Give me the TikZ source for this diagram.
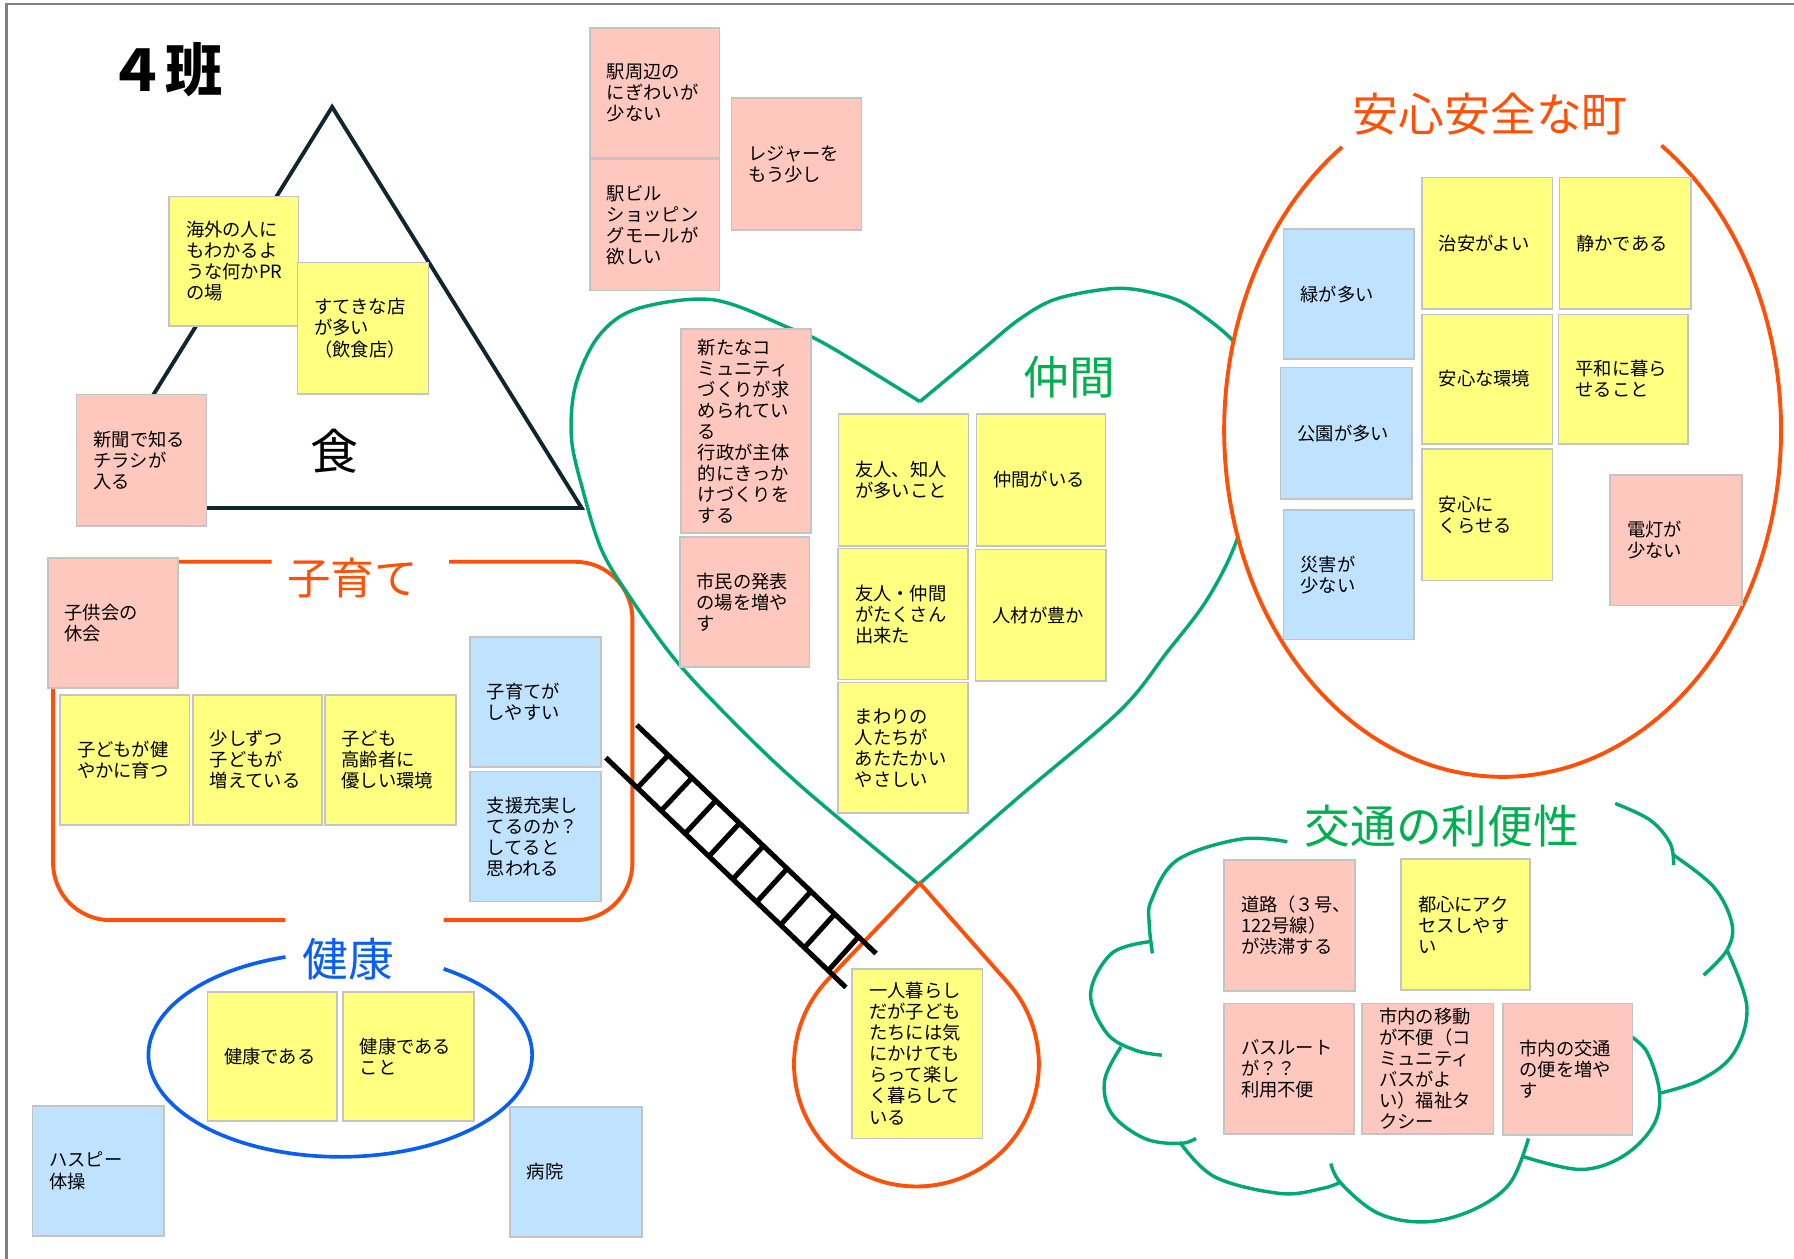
\documentclass[tikz,border=0pt]{standalone}
\usepackage{fontspec}
\setmainfont{Noto Sans CJK JP}
\usetikzlibrary{calc}
\definecolor{pinkn}{HTML}{FFC8BF}
\definecolor{yellown}{HTML}{FFFF80}
\definecolor{bluen}{HTML}{BFE3FF}
\definecolor{noteedge}{HTML}{C4C4C4}
\definecolor{orangel}{HTML}{FF5008}
\definecolor{greenl}{HTML}{00A874}
\definecolor{greent}{HTML}{00B050}
\definecolor{bluel}{HTML}{0A5EF2}
\definecolor{tric}{HTML}{0F2530}
\definecolor{framec}{HTML}{808080}
\tikzset{
  stickybox/.style={draw=noteedge, line width=0.7pt, inner sep=0pt, outer sep=0pt, rectangle},
  stickytext/.style={anchor=west, inner sep=0pt, align=left, font=\fontsize{8}{9.2}\selectfont},
  bigtitle/.style={inner sep=0pt, font=\fontsize{20}{20}\selectfont},
  orangeline/.style={draw=orangel, line width=1.7pt},
  greenline/.style={draw=greenl, line width=1.5pt},
  blueline/.style={draw=bluel, line width=1.6pt},
  triline/.style={draw=tric, line width=1.7pt, line join=miter},
  ladderline/.style={draw=black, line width=2.2pt},
  frameline/.style={draw=framec, line width=1.1pt},
}
\newcommand\stickynote[7]{%
  \node[stickybox, fill=#6, minimum width={(#4-#2)*0.5pt}, minimum height={(#5-#3)*0.5pt}] (#1) at ({(#2+#4)/2},{(#3+#5)/2}) {};
  \node[stickytext] (#1t) at ([xshift=7.2pt]#1.west) {#7};
}
\begin{document}
\begin{tikzpicture}[x=0.5pt,y=-0.5pt]
\useasboundingbox (0,0) rectangle (1568,1100);
% frame
\draw[frameline] (5.8,1100) -- (5.8,3.5) -- (1568,3.5);

% triangle
\coordinate (ta) at (290.3,93.5);
\coordinate (tb) at (508.4,444);
\coordinate (tc) at (72.5,444);
\draw[triline] (ta) -- (tb) -- (tc) -- cycle;

% kosodate rounded rectangle (with gaps)
\draw[orangeline, rounded corners=25pt] (392.5,491) -- (552.7,491) -- (552.7,804.2) -- (387.8,804.2);
\draw[orangeline, rounded corners=25pt] (249.3,804.2) -- (46.4,804.2) -- (46.4,491) -- (237.4,491);

% kenkou ellipse
\draw[blueline] plot[domain=-57.4:253.4, samples=120] ({297.4+167.7*cos(\x)},{921.9+89.2*sin(\x)});

% heart
\draw[greenline] plot[smooth, tension=0.55] coordinates {(804,351) (723.7,302) (690,286.7) (623.3,262) (556.4,270) (523,294) (503,337) (499.5,383) (509.6,429) (526,481) (552,524) (593,580) (652,642) (708,694) (803,773)};
\draw[greenline] plot[smooth, tension=0.55] coordinates {(803,773) (890,697) (979,621) (1020,570) (1055,524) (1081,472) (1100,400) (1100,330) (1077,297) (1040,268) (1014,257.5) (976,252) (924,261) (891,279) (857.5,306.6) (804,351)};

% anshin ellipse
\fill[white] plot[domain=0:360, samples=160] ({1313.3+243.4*cos(\x)},{376+303*sin(\x)}) -- cycle;
\draw[orangeline] plot[domain=-55.2:234.8, samples=160] ({1313.3+243.4*cos(\x)},{376+303*sin(\x)});

% teardrop
\coordinate (dropapex) at (804,772);
\draw[orangeline, line join=miter] (dropapex) -- plot[domain=-43:223, samples=100] ({801+107*cos(\x)},{930+107*sin(\x)}) -- cycle;

% cloud
\draw[greenline] plot[smooth, tension=0.6] coordinates {(1125.1,735.7) (1084.2,733.4) (1028.9,751.7) (1006.4,786.7) (1004.4,807.1) (1007.2,833.3)};
\draw[greenline] plot[smooth, tension=0.6] coordinates {(1004.4,823.1) (971.6,833.3) (953.2,868.3) (967.5,903.2) (992,917.8) (1015.4,922.2)};
\draw[greenline] plot[smooth, tension=0.6] coordinates {(979.8,914.9) (965.5,944) (971.6,973.2) (1000.3,995) (1031,999.4) (1045.3,995)};
\draw[greenline] plot[smooth, tension=0.6] coordinates {(1031,998) (1061.7,1028.6) (1119,1043.1) (1155.8,1038.7) (1172.2,1032.9)};
\draw[greenline] plot[smooth, tension=0.6] coordinates {(1163.2,1016.9) (1172.2,1034.4) (1204.9,1060.6) (1245.9,1067.9) (1286.8,1057.7) (1319.5,1034.4) (1335.9,995)};
\draw[greenline] plot[smooth, tension=0.6] coordinates {(1331.8,1011) (1380.9,1022.1) (1417.8,1011) (1444.4,984.8) (1450.5,955.7) (1440.2,920.7) (1426,906.2)};
\draw[greenline] plot[smooth, tension=0.6] coordinates {(1509.4,830.4) (1526.8,880) (1515.2,920.7) (1486,944) (1449.6,955.7)};
\draw[greenline] plot[smooth, tension=0.6] coordinates {(1462.7,747.4) (1497.7,775.1) (1513.7,807.1) (1509.4,830.4) (1489,852.3)};
\draw[greenline] plot[smooth, tension=0.6] coordinates {(1411.7,702.2) (1442.3,716.8) (1459.8,737.2) (1462.7,756.1)};

% sticky notes: top
\stickynote{n1}{515.6}{24.5}{629}{138}{pinkn}{駅周辺の\\にぎわいが\\少ない}
\stickynote{n2}{515.6}{139.5}{629}{253.9}{pinkn}{駅ビル\\ショッピン\\グモールが\\欲しい}
\stickynote{n3}{639.4}{85.8}{753.1}{201.1}{pinkn}{レジャーを\\もう少し}
% triangle
\stickynote{n4}{147.8}{171.7}{260.9}{285.1}{yellown}{海外の人に\\もわかるよ\\うな何かPR\\の場}
\stickynote{n5}{259.9}{229.3}{374.6}{344.3}{yellown}{すてきな店\\が多い\\（飲食店）}
\stickynote{n6}{66.9}{344.9}{180.6}{459.9}{pinkn}{新聞で知る\\チラシが\\入る}
% heart
\stickynote{n7}{595.2}{287.6}{708.6}{466}{pinkn}{新たなコ\\ミュニティ\\づくりが求\\められてい\\る\\行政が主体\\的にきっか\\けづくりを\\する}
\stickynote{n8}{594.1}{469.4}{707.4}{583}{pinkn}{市民の発表\\の場を増や\\す}
\stickynote{n9}{732.7}{362}{846.5}{477}{yellown}{友人、知人\\が多いこと}
\stickynote{n10}{853.4}{362}{966.3}{477}{yellown}{仲間がいる}
\stickynote{n11}{732.5}{479.5}{846.3}{594}{yellown}{友人・仲間\\がたくさん\\出来た}
\stickynote{n12}{852.6}{480.3}{966.5}{595}{yellown}{人材が豊か}
\stickynote{n13}{732.4}{596.4}{846.3}{710.8}{yellown}{まわりの\\人たちが\\あたたかい\\やさしい}
\stickynote{n14}{744.9}{846.8}{858.8}{994.9}{yellown}{一人暮らし\\だが子ども\\たちには気\\にかけても\\らって楽し\\く暮らして\\いる}
% kosodate
\stickynote{n15}{41.7}{487.6}{155.8}{601.3}{pinkn}{子供会の\\休会}
\stickynote{n16}{52.5}{607.4}{165.6}{721}{yellown}{子どもが健\\やかに育つ}
\stickynote{n17}{168.5}{607.4}{281.6}{721}{yellown}{少しずつ\\子どもが\\増えている}
\stickynote{n18}{283.8}{607.4}{398.6}{721}{yellown}{子ども\\高齢者に\\優しい環境}
\stickynote{n19}{410.6}{556.6}{525.5}{670.3}{bluen}{子育てが\\しやすい}
\stickynote{n20}{410.6}{674.3}{525.5}{788}{bluen}{支援充実し\\てるのか？\\してると\\思われる}
% kenkou
\stickynote{n21}{181.2}{867.1}{294.6}{979.5}{yellown}{健康である}
\stickynote{n22}{299.7}{867.1}{414.2}{979.5}{yellown}{健康である\\こと}
\stickynote{n23}{28.3}{966.5}{143.1}{1080.1}{bluen}{ハスピー\\体操}
\stickynote{n24}{445.8}{967.7}{561}{1080.9}{bluen}{病院}
% anshin
\stickynote{n25}{1121.8}{200.4}{1235.6}{313.8}{bluen}{緑が多い}
\stickynote{n26}{1119.3}{321.1}{1234.2}{436}{bluen}{公園が多い}
\stickynote{n27}{1121.8}{445.8}{1235.6}{559}{bluen}{災害が\\少ない}
\stickynote{n28}{1242.7}{155.1}{1356.9}{270}{yellown}{治安がよい}
\stickynote{n29}{1362.9}{155.1}{1477.8}{270}{yellown}{静かである}
\stickynote{n30}{1242.7}{274.7}{1356.9}{387.8}{yellown}{安心な環境}
\stickynote{n31}{1362.2}{274.7}{1475.3}{387.8}{yellown}{平和に暮ら\\せること}
\stickynote{n32}{1242.7}{392.5}{1356.9}{507.4}{yellown}{安心に\\くらせる}
\stickynote{n33}{1407.4}{415}{1522.3}{529.1}{pinkn}{電灯が\\少ない}
% koutsuu
\stickynote{n34}{1069.9}{751.7}{1184.5}{866.2}{pinkn}{道路（３号、\\122号線）\\が渋滞する}
\stickynote{n35}{1224.6}{750.8}{1337.5}{865.4}{yellown}{都心にアク\\セスしやす\\い}
\stickynote{n36}{1069.9}{877}{1183.2}{991.3}{pinkn}{バスルート\\が？？\\利用不便}
\stickynote{n37}{1190.6}{877}{1305.2}{991.3}{pinkn}{市内の移動\\が不便（コ\\ミュニティ\\バスがよ\\い）福祉タ\\クシー}
\stickynote{n38}{1313.4}{877}{1426.8}{992}{pinkn}{市内の交通\\の便を増や\\す}

% ladder
\coordinate (r1a) at (556.6,633.7);
\coordinate (r1b) at (765.7,833.4);
\coordinate (r2a) at (529.5,662.2);
\coordinate (r2b) at (739.3,863);
\draw[ladderline] (r1a) -- (r1b);
\draw[ladderline] (r2a) -- (r2b);
\foreach \t in {0.1314,0.2308,0.3302,0.4296,0.5290,0.6284,0.7278,0.8272,0.9267}
  \draw[ladderline] ($(r1a)!\t!(r1b)$) -- ($(r2a)!\t!(r2b)$);

% titles
\node[inner sep=0pt, font=\fontsize{25}{25}\selectfont\bfseries] (han) at (145,61) {４班};
\node[inner sep=0pt, font=\fontsize{21}{21}\selectfont] (shoku) at (292,394) {食};
\node[bigtitle, text=orangel, font=\fontsize{19}{19}\selectfont] (tkosodate) at (308,505) {子育て};
\node[bigtitle, text=bluel] (tkenkou) at (304.5,838.7) {健康};
\node[bigtitle, text=greent] (tnakama) at (934.4,329.6) {仲間};
\node[bigtitle, text=orangel] (tanshin) at (1302.5,99.7) {安心安全な町};
\node[bigtitle, text=greent] (tkoutsuu) at (1260.2,722.5) {交通の利便性};
\end{tikzpicture}
\end{document}
